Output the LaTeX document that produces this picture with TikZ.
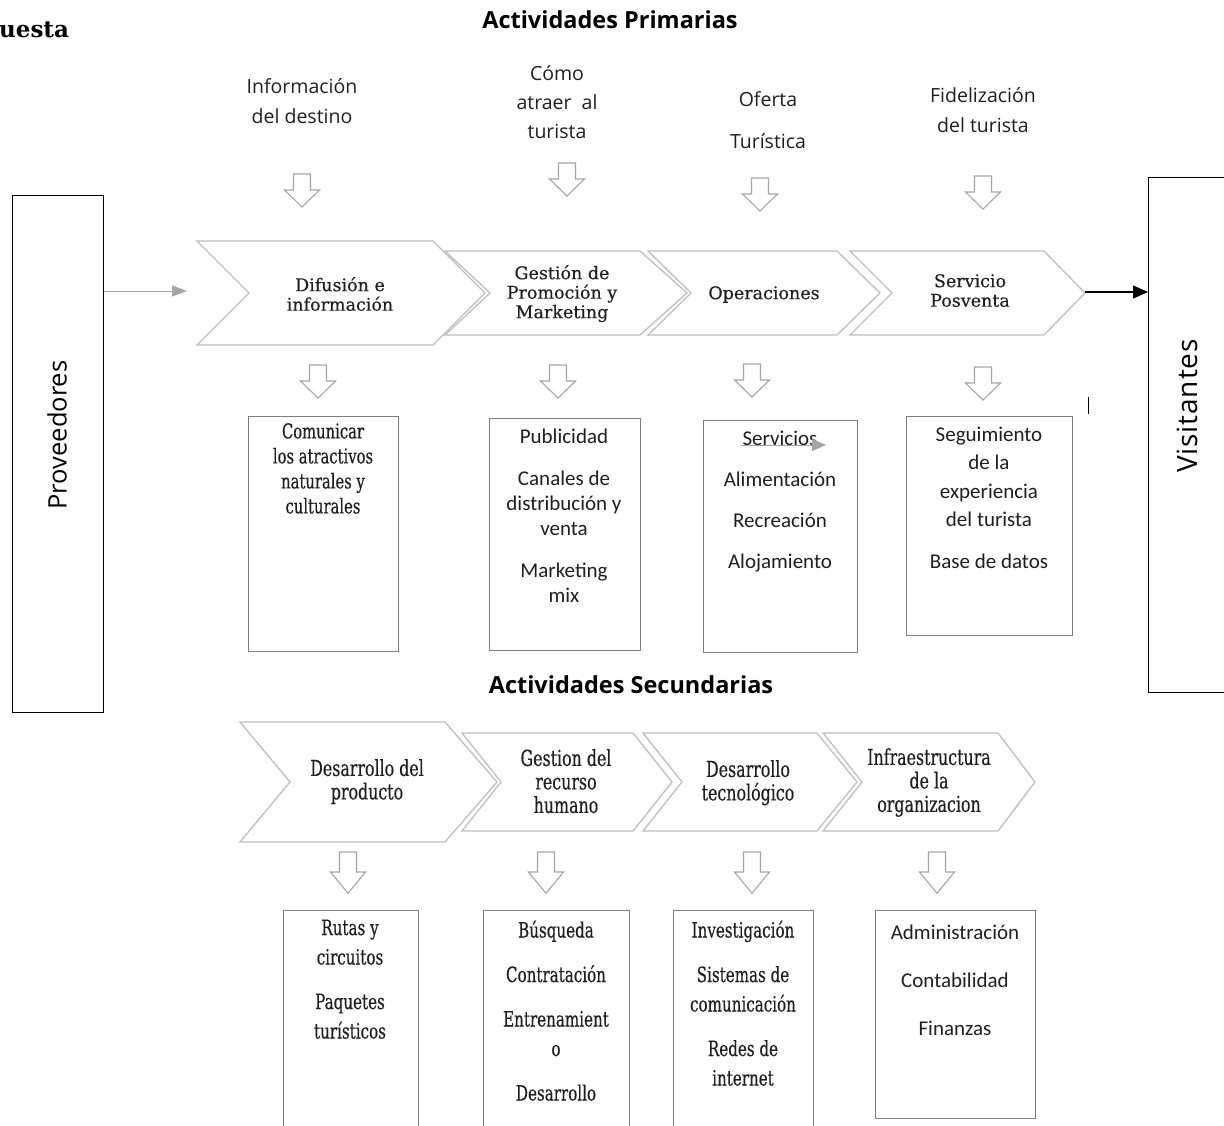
\documentclass[tikz,border=0pt]{standalone}
\usepackage{fontspec}
\usetikzlibrary{arrows.meta}
\newfontfamily\osans{Open Sans}
\newfontfamily\osanswide[LetterSpace=3]{Open Sans}
\newfontfamily\cfont{Carlito}
\newfontfamily\slab[FakeStretch=0.72, FakeBold=0.3]{DejaVu Serif}
\newfontfamily\slabw[FakeBold=0.3]{DejaVu Serif}
\newfontfamily\hserif{DejaVu Serif}
\definecolor{chevgray}{HTML}{BFBFBF}
\definecolor{arrgray}{HTML}{A6A6A6}
\definecolor{boxgray}{HTML}{7F7F7F}
\definecolor{txt}{HTML}{1F1F1F}
\tikzset{
  chev/.style={draw=chevgray, line width=1.3pt, fill=white, line join=miter},
  dnline/.style={draw=arrgray, line width=1.1pt, fill=white, line join=miter},
  downarrow/.pic={
    \draw[dnline] (-8.5,0) -- (8.5,0) -- (8.5,16) -- (17.5,16) -- (0,33)
      -- (-17.5,16) -- (-8.5,16) -- cycle;
  },
  boxp/.style={draw=boxgray, line width=1pt, fill=none},
  sidebox/.style={draw=black, line width=0.9pt},
  toplabel/.style={font=\osans\fontsize{19.5}{30}\selectfont, text=txt, align=center, inner sep=0pt, anchor=north},
  chevtxt/.style={font=\slabw\fontsize{17.5}{19.5}\selectfont, text=txt, align=center, inner sep=0pt, anchor=north},
  chevtxtb/.style={font=\slab\fontsize{22}{23.5}\selectfont, text=txt, align=center, inner sep=0pt, anchor=north},
  boxtxt/.style={font=\cfont\fontsize{21}{25}\selectfont, text=txt, align=center, inner sep=0pt, anchor=north},
  slabtxt/.style={font=\slab\fontsize{21}{29.5}\selectfont, text=txt, align=center, inner sep=0pt, anchor=north},
  title/.style={font=\osans\bfseries\fontsize{23.5}{28}\selectfont, text=black, inner sep=0pt, anchor=base},
  sidetxt/.style={font=\osans\fontsize{25.5}{30}\selectfont, text=black, inner sep=0pt, rotate=90},
}
\begin{document}
\begin{tikzpicture}[x=1pt,y=-1pt]
\useasboundingbox (0,0) rectangle (1224,1125);
\fill[white] (0,0) rectangle (1224,1125);
\clip (0,0) rectangle (1224,1125);

% heading fragment and section titles
\node[font=\hserif\bfseries\fontsize{23}{27}\selectfont, inner sep=0pt, anchor=base west] (head) at (-1,37) {uesta};
\node[title] (tprim) at (610,28) {Actividades Primarias};
\node[title] (tsec) at (631,693) {Actividades Secundarias};

% side boxes
\node[sidebox, anchor=north west, minimum width=91, minimum height=517] (prov) at (12,195) {};
\node[sidetxt] (provtxt) at (57,435) {Proveedores};
\node[sidebox, anchor=north west, minimum width=110, minimum height=515] (visit) at (1148,177) {};
\node[sidetxt, font=\osanswide\fontsize{28}{32}\selectfont] (visittxt) at (1187,406) {Visitantes};

% primary activity chevrons
\draw[chev] (197,241) -- (433,241) -- (485,293) -- (433,345) -- (197,345) -- (249,293) -- cycle;
\draw[chev] (445,251) -- (640,251) -- (687,293) -- (640,335) -- (445,335) -- (490,293) -- cycle;
\draw[chev] (648,251) -- (837,251) -- (880,293) -- (837,335) -- (648,335) -- (691,293) -- cycle;
\draw[chev] (850,251) -- (1044,251) -- (1085,293) -- (1044,335) -- (850,335) -- (892,293) -- cycle;
\coordinate (c1in) at (187,291);
\coordinate (c4out) at (1085,292);
\node[chevtxt] (c1) at (340,277) {Difusión e\\información};
\node[chevtxt] (c2) at (562,265) {Gestión de\\Promoción y\\Marketing};
\node[chevtxt] (c3) at (764,286) {Operaciones};
\node[chevtxt] (c4) at (970,274) {Servicio\\Posventa};

% flow in and out
\draw[draw=arrgray, line width=1pt, -{Triangle[length=15pt,width=11pt]}, arrgray] (prov.east |- c1in) -- (c1in);
\draw[black, line width=1.3pt, -{Triangle[length=15pt,width=13pt]}] (c4out) -- (visit.west |- c4out);

% inputs above the primary activities
\node[toplabel] (l1) at (302,78.5) {Información\\del destino};
\node[toplabel, font=\osans\fontsize{19.5}{29}\selectfont] (l2) at (557,65.5) {Cómo\\atraer\ \ al\\turista};
\node[toplabel] (l3) at (768,91.5) {Oferta\\[12pt]Turística};
\node[toplabel] (l4) at (983,87.5) {Fidelización\\del turista};
\pic at (302,174) {downarrow};
\pic at (567,163) {downarrow};
\pic at (760,178) {downarrow};
\pic at (983,176) {downarrow};

% arrows down to the primary detail boxes
\pic at (318,365) {downarrow};
\pic at (558,365) {downarrow};
\pic at (752,364) {downarrow};
\pic at (983,367) {downarrow};

% primary detail boxes
\node[boxp, anchor=north west, minimum width=150, minimum height=235] (b1) at (248,416) {};
\node[boxp, anchor=north west, minimum width=151, minimum height=232] (b2) at (489,418) {};
\node[boxp, anchor=north west, minimum width=154, minimum height=232] (b3) at (703,420) {};
\node[boxp, anchor=north west, minimum width=166, minimum height=219] (b4) at (906,416) {};
\node[slabtxt, font=\slab\fontsize{20.5}{25}\selectfont] (b1t) at (323,423) {Comunicar\\los atractivos\\naturales y\\culturales};
\node[boxtxt] (b2t) at (564,428.5) {Publicidad\\[17pt]Canales de\\distribución y\\venta\\[17pt]Marketing\\mix};
\node[boxtxt] (b3t) at (780,430.5) {Servicios\\[16pt]Alimentación\\[16pt]Recreación\\[16pt]Alojamiento};
\node[boxtxt, font=\cfont\fontsize{21}{28.5}\selectfont] (b4t) at (989,426.5) {Seguimiento\\de la\\experiencia\\del turista\\[13pt]Base de datos};
\coordinate (srvA) at (741,445);
\coordinate (srvB) at (826,445);
\draw[arrgray, line width=0.9pt, -{Triangle[length=14pt,width=12pt]}] (srvA) -- (srvB);
\draw[black, line width=1pt] (1088,397) -- (1088,414);

% secondary activity chevrons
\draw[chev] (240,722) -- (445,722) -- (497,782) -- (445,842) -- (240,842) -- (290,782) -- cycle;
\draw[chev] (462,733) -- (633,733) -- (672,782) -- (633,831) -- (462,831) -- (501,782) -- cycle;
\draw[chev] (643,733) -- (817,733) -- (857,782) -- (817,831) -- (643,831) -- (682,782) -- cycle;
\draw[chev] (823,733) -- (998,733) -- (1035,782) -- (998,831) -- (823,831) -- (862,782) -- cycle;
\node[chevtxtb] (d1) at (367,759) {Desarrollo del\\producto};
\node[chevtxtb] (d2) at (566,749) {Gestion del\\recurso\\humano};
\node[chevtxtb] (d3) at (748,760) {Desarrollo\\tecnológico};
\node[chevtxtb] (d4) at (929,748) {Infraestructura\\de la\\organizacion};

% arrows down to the secondary detail boxes
\pic[yscale=1.25] at (348,852) {downarrow};
\pic[yscale=1.25] at (546,852) {downarrow};
\pic[yscale=1.25] at (752,852) {downarrow};
\pic[yscale=1.25] at (937,852) {downarrow};

% secondary detail boxes
\node[boxp, anchor=north west, minimum width=135, minimum height=230] (s1) at (283,910) {};
\node[boxp, anchor=north west, minimum width=146, minimum height=230] (s2) at (483,910) {};
\node[boxp, anchor=north west, minimum width=140, minimum height=230] (s3) at (673,910) {};
\node[boxp, anchor=north west, minimum width=160, minimum height=208] (s4) at (875,910) {};
\node[slabtxt] (s1t) at (350,919.5) {Rutas y\\circuitos\\[15pt]Paquetes\\turísticos};
\node[slabtxt] (s2t) at (556,920.5) {Búsqueda\\[15pt]Contratación\\[15pt]Entrenamient\\o\\[15pt]Desarrollo};
\node[slabtxt] (s3t) at (743,920.5) {Investigación\\[15pt]Sistemas de\\comunicación\\[15pt]Redes de\\internet};
\node[boxtxt, font=\cfont\fontsize{21}{48}\selectfont] (s4t) at (955,925) {Administración\\Contabilidad\\Finanzas};
\end{tikzpicture}
\end{document}
